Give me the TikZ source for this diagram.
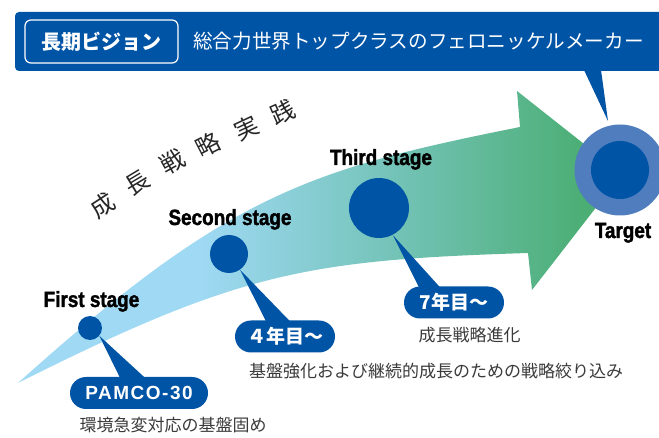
\documentclass[tikz,border=0pt]{standalone}
\usepackage{fontspec}
\usetikzlibrary{calc}
\newfontfamily\jpfont{Noto Sans CJK JP}
\newfontfamily\stagefont[FakeStretch=0.86, BoldFeatures={FakeBold=1.6}]{Liberation Sans}
\newfontfamily\pillfont[LetterSpace=8]{Liberation Sans}
\definecolor{kon}{HTML}{0054A6}
\definecolor{ring}{HTML}{4F7DBD}
\definecolor{mizu}{HTML}{9FD9F4}
\definecolor{aomidori}{HTML}{74C3B8}
\definecolor{midori}{HTML}{4BAE74}
\definecolor{hai}{HTML}{3A3A3A}
\pgfdeclarehorizontalshading{yajirushi}{100bp}{color(0bp)=(mizu); color(40bp)=(mizu); color(56bp)=(aomidori); color(72bp)=(midori); color(100bp)=(midori)}

\begin{document}
\begin{tikzpicture}[x=1pt,y=-1pt,
		stagelabel/.style={anchor=base, inner sep=0pt, text=black, font=\stagefont\bfseries\fontsize{22}{22}\selectfont},
		stagedot/.style={circle, fill=kon, inner sep=0pt, minimum size=#1},
		yearpill/.style={fill=kon, rounded corners=16pt, minimum height=32pt, inner sep=0pt, text=white, font=\jpfont\bfseries\fontsize{19}{19}\selectfont},
		note/.style={inner sep=0pt, text=hai, font=\jpfont\fontsize{17}{17}\selectfont},
		kanji/.style={inner sep=0pt, text=black!85, font=\jpfont\fontsize{24}{24}\selectfont}]
				\useasboundingbox (0,0) rectangle (659,438);
				% banner
				\fill[kon, rounded corners=4pt] (15,12) rectangle (680,71);
				\node[draw=white, line width=1.2pt, rounded corners=6pt, minimum width=153pt, minimum height=43pt, text=white, font=\jpfont\bfseries\fontsize{20}{20}\selectfont] (vision) at (101.5,41.5) {長期ビジョン};
				\node[anchor=west, inner sep=0pt, text=white, font=\jpfont\fontsize{19.6}{20}\selectfont] (goal) at (193,41.5) {総合力世界トップクラスのフェロニッケルメーカー};
				\coordinate (vtip) at (608,121);
				\fill[kon] (584,70) -- (601,70) -- (vtip) -- cycle;
				% arrow
				\shade[shading=yajirushi] (18,383) .. controls (228,194) and (310,169) .. (520,127) -- (517,91) -- (622,174) -- (532,290) -- (528,253) .. controls (307,260) and (239,272) .. (18,383) -- cycle;
				\node[kanji, rotate=33] (k1) at (103,205) {成};
				\node[kanji, rotate=31] (k2) at (137,183) {長};
				\node[kanji, rotate=29] (k3) at (173,162) {戦};
				\node[kanji, rotate=27] (k4) at (208,145) {略};
				\node[kanji, rotate=25] (k5) at (247,128) {実};
				\node[kanji, rotate=24] (k6) at (283,112) {践};
				% stages
				\node[stagedot=24pt] (first) at (90,328) {};
				\node[stagedot=38pt] (second) at (229,254) {};
				\node[stagedot=60pt] (third) at (379,208) {};
				\node[circle, fill=ring, inner sep=0pt, minimum size=91pt] (target) at (620,170) {};
				\node[stagedot=58pt] (targetcore) at (target) {};
				\node[stagelabel] (firstlbl) at (91.5,307) {First stage};
				\node[stagelabel] (secondlbl) at (230,225) {Second stage};
				\node[stagelabel] (thirdlbl) at (381,165) {Third stage};
				\node[stagelabel] (targetlbl) at (623,238) {Target};
				% callouts
				\node[yearpill, minimum width=138pt, font=\pillfont\bfseries\fontsize{19}{19}\selectfont] (pamco) at (139,393) {PAMCO-30};
				\node[yearpill, minimum width=100pt] (year4) at (285,336.5) {４年目～};
				\node[yearpill, minimum width=100pt] (year7) at (454,302.5) {7年目～};
				\fill[kon] (first.-40) -- ($(pamco.north)+(-19,1)$) -- ($(pamco.north)+(6,1)$) -- cycle;
				\fill[kon] (second.-55) -- ($(year4.north)+(-19,1)$) -- ($(year4.north)+(5,1)$) -- cycle;
				\fill[kon] (third.-63) -- ($(year7.north)+(-35,1)$) -- ($(year7.north)+(-14,1)$) -- cycle;
				\node[note] (pamconote) at (173,425) {環境急変対応の基盤固め};
				\node[note] (year4note) at (436,371) {基盤強化および継続的成長のための戦略絞り込み};
				\node[note] (year7note) at (469.5,335) {成長戦略進化};
			\end{tikzpicture}
\end{document}
